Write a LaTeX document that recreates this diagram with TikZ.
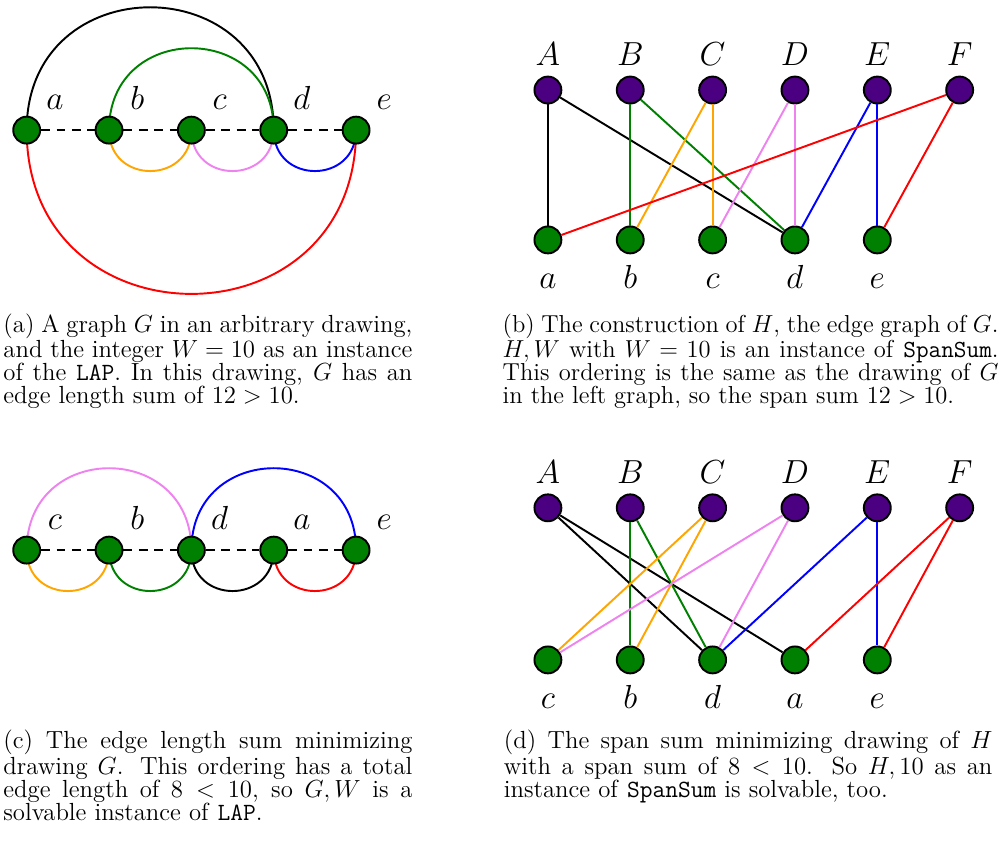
\documentclass[tikz,border=0pt]{standalone}
\usepackage{amsmath}
\usepackage{xcolor}
\usepackage{tikz}
\usetikzlibrary{backgrounds}
\definecolor{ngreen}{RGB}{0,128,0}
\definecolor{npurple}{RGB}{75,0,130}
\definecolor{eorange}{RGB}{255,165,0}
\definecolor{eviolet}{RGB}{238,130,238}
\hyphenpenalty=10000
\lineskiplimit=-5pt
\tikzset{
  gnode/.style={circle,draw=black,line width=1pt,fill=ngreen,minimum size=4.9mm,inner sep=0pt},
  pnode/.style={gnode,fill=npurple},
  vlbl/.style={anchor=base,inner sep=0pt,font=\fontsize{16}{19}\selectfont},
  spine/.style={dash pattern=on 4.6pt off 3.4pt,line width=1pt},
  arcup/.style={line width=1pt,out=90,in=90,looseness=1.7},
  arcdn/.style={line width=1pt,out=-90,in=-90,looseness=1.7},
  hedge/.style={line width=1pt},
  capbox/.style={anchor=base west,inner sep=0pt,align=justify,scale=1.07,transform shape,
    font=\fontsize{12}{11.12}\selectfont},
}

\begin{document}
\begin{tikzpicture}
  \useasboundingbox (0,0) rectangle (18.215,-15.41);
  % (a)
  \node[gnode] (ga) at (0.486,-2.37) {};
  \node[gnode] (gb) at (1.986,-2.37) {};
  \node[gnode] (gc) at (3.486,-2.37) {};
  \node[gnode] (gd) at (4.986,-2.37) {};
  \node[gnode] (ge) at (6.486,-2.37) {};
  \node[vlbl] (lga) at (1.00,-1.99) {$a$};
  \node[vlbl] (lgb) at (2.50,-1.99) {$b$};
  \node[vlbl] (lgc) at (4.00,-1.99) {$c$};
  \node[vlbl] (lgd) at (5.50,-1.99) {$d$};
  \node[vlbl] (lge) at (7.00,-1.99) {$e$};
  \begin{scope}[on background layer]
    \draw[spine] (ga) -- (gb) -- (gc) -- (gd) -- (ge);
    \draw[arcup] (ga.center) to (gd.center);
    \draw[arcup,ngreen] (gb.center) to (gd.center);
    \draw[arcdn,eorange] (gb.center) to (gc.center);
    \draw[arcdn,eviolet] (gc.center) to (gd.center);
    \draw[arcdn,blue] (gd.center) to (ge.center);
    \draw[arcdn,red] (ga.center) to (ge.center);
  \end{scope}
  \node[capbox,text width=6.963cm] (capa) at (0.055,-6.05)
    {(a) A graph $G$ in an arbitrary drawing, and the integer $W=10$ as an instance of the \texttt{LAP}. In this drawing, $G$ has an edge length sum of $12>10$.};
  % (b)
  \node[pnode] (eA) at (9.98,-1.64) {};
  \node[pnode] (eB) at (11.48,-1.64) {};
  \node[pnode] (eC) at (12.98,-1.64) {};
  \node[pnode] (eD) at (14.48,-1.64) {};
  \node[pnode] (eE) at (15.98,-1.64) {};
  \node[pnode] (eF) at (17.48,-1.64) {};
  \node[gnode] (va) at (9.98,-4.37) {};
  \node[gnode] (vb) at (11.48,-4.37) {};
  \node[gnode] (vc) at (12.98,-4.37) {};
  \node[gnode] (vd) at (14.48,-4.37) {};
  \node[gnode] (ve) at (15.98,-4.37) {};
  \node[vlbl] (leA) at (9.98,-1.184) {$A$};
  \node[vlbl] (leB) at (11.48,-1.184) {$B$};
  \node[vlbl] (leC) at (12.98,-1.184) {$C$};
  \node[vlbl] (leD) at (14.48,-1.184) {$D$};
  \node[vlbl] (leE) at (15.98,-1.184) {$E$};
  \node[vlbl] (leF) at (17.48,-1.184) {$F$};
  \node[vlbl] (lva) at (9.98,-5.246) {$a$};
  \node[vlbl] (lvb) at (11.48,-5.246) {$b$};
  \node[vlbl] (lvc) at (12.98,-5.246) {$c$};
  \node[vlbl] (lvd) at (14.48,-5.246) {$d$};
  \node[vlbl] (lve) at (15.98,-5.246) {$e$};
  \draw[hedge] (eA) -- (va);
  \draw[hedge] (eA) -- (vd);
  \draw[hedge,ngreen] (eB) -- (vb);
  \draw[hedge,ngreen] (eB) -- (vd);
  \draw[hedge,eorange] (eC) -- (vb);
  \draw[hedge,eorange] (eC) -- (vc);
  \draw[hedge,eviolet] (eD) -- (vc);
  \draw[hedge,eviolet] (eD) -- (vd);
  \draw[hedge,blue] (eE) -- (vd);
  \draw[hedge,blue] (eE) -- (ve);
  \draw[hedge,red] (eF) -- (va);
  \draw[hedge,red] (eF) -- (ve);
  \node[capbox,scale=1.06/1.07,text width=8.52cm] (capb) at (9.15,-6.05)
    {(b) The construction of $H$, the edge graph of $G$.\linebreak
     $H,W$ with $W=10$ is an instance of \texttt{SpanSum}.\linebreak
     This ordering is the same as the drawing of $G$\linebreak
     in the left graph, so the span sum $12>10$.};
  % (c)
  \node[gnode] (oc) at (0.486,-10.02) {};
  \node[gnode] (ob) at (1.986,-10.02) {};
  \node[gnode] (od) at (3.486,-10.02) {};
  \node[gnode] (oa) at (4.986,-10.02) {};
  \node[gnode] (oe) at (6.486,-10.02) {};
  \node[vlbl] (loc) at (1.00,-9.65) {$c$};
  \node[vlbl] (lob) at (2.50,-9.65) {$b$};
  \node[vlbl] (lod) at (4.00,-9.65) {$d$};
  \node[vlbl] (loa) at (5.50,-9.65) {$a$};
  \node[vlbl] (loe) at (7.00,-9.65) {$e$};
  \begin{scope}[on background layer]
    \draw[spine] (oc) -- (ob) -- (od) -- (oa) -- (oe);
    \draw[arcup,eviolet] (oc.center) to (od.center);
    \draw[arcup,blue] (od.center) to (oe.center);
    \draw[arcdn,eorange] (oc.center) to (ob.center);
    \draw[arcdn,ngreen] (ob.center) to (od.center);
    \draw[arcdn] (od.center) to (oa.center);
    \draw[arcdn,red] (oa.center) to (oe.center);
  \end{scope}
  \node[capbox,text width=6.963cm] (capc) at (0.055,-13.64)
    {(c) The edge length sum minimizing drawing $G$. This ordering has a total edge length of $8<10$, so $G,W$ is a solvable instance of \texttt{LAP}.};
  % (d)
  \node[pnode] (fA) at (9.98,-9.25) {};
  \node[pnode] (fB) at (11.48,-9.25) {};
  \node[pnode] (fC) at (12.98,-9.25) {};
  \node[pnode] (fD) at (14.48,-9.25) {};
  \node[pnode] (fE) at (15.98,-9.25) {};
  \node[pnode] (fF) at (17.48,-9.25) {};
  \node[gnode] (wc) at (9.98,-12.02) {};
  \node[gnode] (wb) at (11.48,-12.02) {};
  \node[gnode] (wd) at (12.98,-12.02) {};
  \node[gnode] (wa) at (14.48,-12.02) {};
  \node[gnode] (we) at (15.98,-12.02) {};
  \node[vlbl] (lfA) at (9.98,-8.80) {$A$};
  \node[vlbl] (lfB) at (11.48,-8.80) {$B$};
  \node[vlbl] (lfC) at (12.98,-8.80) {$C$};
  \node[vlbl] (lfD) at (14.48,-8.80) {$D$};
  \node[vlbl] (lfE) at (15.98,-8.80) {$E$};
  \node[vlbl] (lfF) at (17.48,-8.80) {$F$};
  \node[vlbl] (lwc) at (9.98,-12.90) {$c$};
  \node[vlbl] (lwb) at (11.48,-12.90) {$b$};
  \node[vlbl] (lwd) at (12.98,-12.90) {$d$};
  \node[vlbl] (lwa) at (14.48,-12.90) {$a$};
  \node[vlbl] (lwe) at (15.98,-12.90) {$e$};
  \draw[hedge] (fA) -- (wd);
  \draw[hedge] (fA) -- (wa);
  \draw[hedge,ngreen] (fB) -- (wb);
  \draw[hedge,ngreen] (fB) -- (wd);
  \draw[hedge,eorange] (fC) -- (wc);
  \draw[hedge,eorange] (fC) -- (wb);
  \draw[hedge,eviolet] (fD) -- (wc);
  \draw[hedge,eviolet] (fD) -- (wd);
  \draw[hedge,blue] (fE) -- (wd);
  \draw[hedge,blue] (fE) -- (we);
  \draw[hedge,red] (fF) -- (wa);
  \draw[hedge,red] (fF) -- (we);
  \node[capbox,text width=8.318cm] (capd) at (9.17,-13.64)
    {(d) The span sum minimizing drawing of $H$ with a span sum of $8<10$. So $H,10$ as an instance of \texttt{SpanSum} is solvable, too.};
\end{tikzpicture}
\end{document}
